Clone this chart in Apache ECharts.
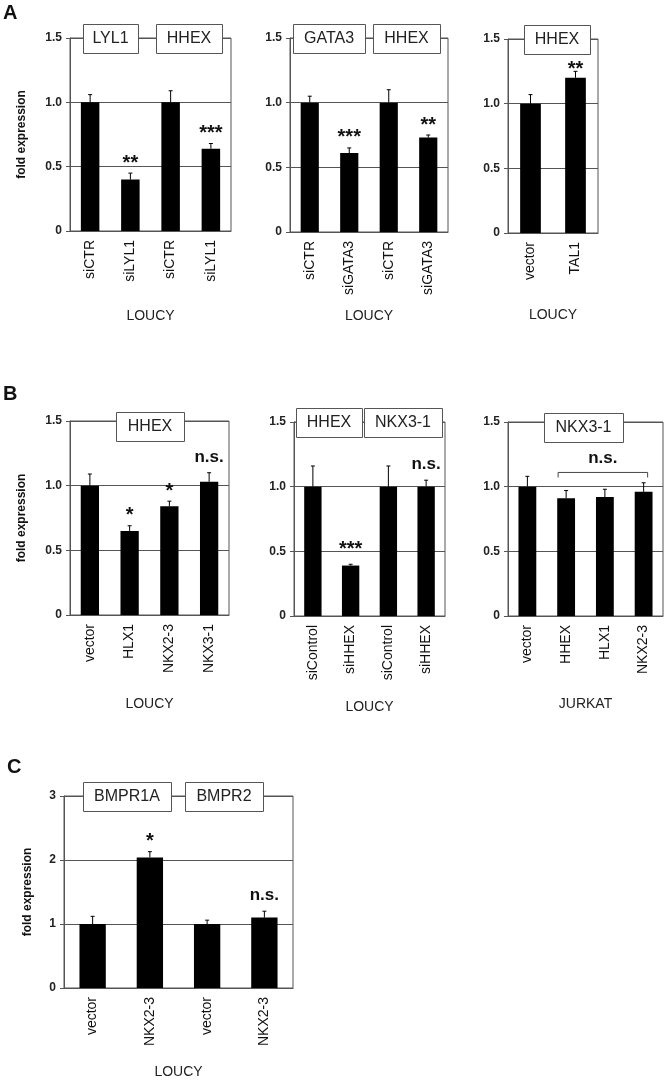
<!DOCTYPE html>
<html>
<head>
<meta charset="utf-8">
<script src="https://cdn.jsdelivr.net/npm/echarts@6/dist/echarts.min.js"></script>
<style>
  html, body { margin: 0; padding: 0; background: #fff; }
  #chart { width: 664px; height: 1080px; }
</style>
</head>
<body>
<div id="chart"></div>
<script>
  // panel A
  const a1Categories = ["siCTR", "siLYL1", "siCTR", "siLYL1"];
  const a1Values = [1.0, 0.40, 1.0, 0.64];
  const a1ErrTop = [1.06, 0.45, 1.09, 0.68];
  const a1Sig = ["", "**", "", "***"];

  const a2Categories = ["siCTR", "siGATA3", "siCTR", "siGATA3"];
  const a2Values = [1.0, 0.61, 1.0, 0.73];
  const a2ErrTop = [1.05, 0.65, 1.10, 0.75];
  const a2Sig = ["", "***", "", "**"];

  const a3Categories = ["vector", "TAL1"];
  const a3Values = [1.0, 1.2];
  const a3ErrTop = [1.07, 1.25];
  const a3Sig = ["", "**"];

  // panel B
  const b1Categories = ["vector", "HLX1", "NKX2-3", "NKX3-1"];
  const b1Values = [1.0, 0.65, 0.84, 1.03];
  const b1ErrTop = [1.09, 0.69, 0.88, 1.10];
  const b1Sig = ["", "*", "*", "n.s."];

  const b2Categories = ["siControl", "siHHEX", "siControl", "siHHEX"];
  const b2Values = [1.0, 0.39, 1.0, 1.0];
  const b2ErrTop = [1.16, 0.40, 1.16, 1.05];
  const b2Sig = ["", "***", "", "n.s."];

  const b3Categories = ["vector", "HHEX", "HLX1", "NKX2-3"];
  const b3Values = [1.0, 0.91, 0.92, 0.96];
  const b3ErrTop = [1.08, 0.97, 0.98, 1.03];
  const b3Sig = ["", "", "", ""];
  const b3Bracket = [1, 3, 1.11]; // from category, to category, height
  const b3BracketLabel = "n.s.";

  // panel C
  const cCategories = ["vector", "NKX2-3", "vector", "NKX2-3"];
  const cValues = [1.0, 2.04, 1.0, 1.10];
  const cErrTop = [1.12, 2.13, 1.06, 1.20];
  const cSig = ["", "*", "", "n.s."];

  const yTicksSmall = [0, 0.5, 1.0, 1.5];
  const yTicksC = [0, 1, 2, 3];

  const FONT = "Liberation Sans, Arial, sans-serif";

  // layout of the seven small plots
  const panels = [
    { cats: a1Categories, vals: a1Values, err: a1ErrTop, sig: a1Sig, ticks: yTicksSmall,
      grid: { left: 70, top: 38, width: 161, height: 193 }, yName: true, cell: "LOUCY", nameGap: 78, sigDrop: 0,
      boxes: [{ text: "LYL1", x: 83, w: 55 }, { text: "HHEX", x: 156, w: 66 }], boxY: 24 },
    { cats: a2Categories, vals: a2Values, err: a2ErrTop, sig: a2Sig, ticks: yTicksSmall,
      grid: { left: 290, top: 38, width: 158, height: 194 }, yName: false, cell: "LOUCY", nameGap: 77, sigDrop: 0,
      boxes: [{ text: "GATA3", x: 293, w: 72 }, { text: "HHEX", x: 373, w: 67 }], boxY: 24 },
    { cats: a3Categories, vals: a3Values, err: a3ErrTop, sig: a3Sig, ticks: yTicksSmall,
      grid: { left: 508, top: 39, width: 90, height: 194 }, yName: false, cell: "LOUCY", nameGap: 75, sigDrop: 8,
      boxes: [{ text: "HHEX", x: 524, w: 66 }], boxY: 25 },
    { cats: b1Categories, vals: b1Values, err: b1ErrTop, sig: b1Sig, ticks: yTicksSmall,
      grid: { left: 70, top: 421, width: 159, height: 194 }, yName: true, cell: "LOUCY", nameGap: 82, sigDrop: 0,
      boxes: [{ text: "HHEX", x: 116, w: 68 }], boxY: 412 },
    { cats: b2Categories, vals: b2Values, err: b2ErrTop, sig: b2Sig, ticks: yTicksSmall,
      grid: { left: 294, top: 422, width: 151, height: 194 }, yName: false, cell: "LOUCY", nameGap: 84, sigDrop: -5,
      boxes: [{ text: "HHEX", x: 296, w: 66 }, { text: "NKX3-1", x: 364, w: 78 }], boxY: 408 },
    { cats: b3Categories, vals: b3Values, err: b3ErrTop, sig: b3Sig, ticks: yTicksSmall,
      grid: { left: 508, top: 422, width: 155, height: 194 }, yName: false, cell: "JURKAT", nameGap: 81, sigDrop: 0,
      boxes: [{ text: "NKX3-1", x: 544, w: 79 }], boxY: 413 },
    { cats: cCategories, vals: cValues, err: cErrTop, sig: cSig, ticks: yTicksC,
      grid: { left: 64, top: 796, width: 229, height: 193 }, yName: true, cell: "LOUCY", nameGap: 77, sigDrop: 0,
      boxes: [{ text: "BMPR1A", x: 83, w: 88 }, { text: "BMPR2", x: 185, w: 78 }], boxY: 782 },
  ];

  const chart = echarts.init(document.getElementById("chart"), null, { renderer: "canvas" });

  const grids = [], xAxes = [], yAxes = [], series = [], graphics = [];

  panels.forEach((p, i) => {
    const tickStep = p.ticks[1] - p.ticks[0];
    grids.push(Object.assign({ show: true, borderColor: "#555", borderWidth: 1 }, p.grid));
    xAxes.push({
      type: "category",
      gridIndex: i,
      data: p.cats,
      axisLine: { lineStyle: { color: "#555", width: 1 } },
      axisTick: { show: false },
      axisLabel: { rotate: 90, fontSize: 14, color: "#111", margin: 9, fontFamily: FONT },
      name: p.cell,
      nameLocation: "middle",
      nameGap: p.nameGap,
      nameTextStyle: { fontSize: 14, color: "#222", fontFamily: FONT },
    });
    yAxes.push({
      type: "value",
      gridIndex: i,
      min: p.ticks[0],
      max: p.ticks[p.ticks.length - 1],
      interval: tickStep,
      axisLine: { show: true, lineStyle: { color: "#555", width: 1 } },
      axisTick: { show: true, length: 4, lineStyle: { color: "#555" } },
      axisLabel: {
        fontSize: 12, fontWeight: "bold", color: "#222", margin: 8, fontFamily: FONT,
        formatter: (v) => (v === 0 ? "0" : tickStep < 1 ? v.toFixed(1) : String(v)),
      },
      splitLine: { show: true, lineStyle: { color: "#555", width: 1 } },
      name: p.yName ? "fold expression" : "",
      nameLocation: "middle",
      nameRotate: 90,
      nameGap: p.grid.left === 64 ? 30 : 42,
      nameTextStyle: { fontSize: 12, fontWeight: "bold", color: "#111", fontFamily: FONT },
    });
    series.push({
      type: "bar",
      xAxisIndex: i,
      yAxisIndex: i,
      data: p.vals,
      barWidth: "46%",
      itemStyle: { color: "#000" },
      silent: true,
    });
    series.push({
      type: "custom",
      xAxisIndex: i,
      yAxisIndex: i,
      silent: true,
      z: 5,
      data: p.cats.map((c, k) => [k, p.vals[k], p.err[k]]),
      renderItem: (params, api) => {
        const base = api.coord([api.value(0), api.value(1)]);
        const top = api.coord([api.value(0), api.value(2)]);
        const children = [
          { type: "line", shape: { x1: base[0], y1: base[1], x2: top[0], y2: top[1] },
            style: { stroke: "#000", lineWidth: 1 } },
          { type: "line", shape: { x1: top[0] - 2, y1: top[1], x2: top[0] + 2, y2: top[1] },
            style: { stroke: "#000", lineWidth: 1 } },
        ];
        const s = p.sig[params.dataIndex];
        if (s) {
          const ns = s === "n.s.";
          children.push({
            type: "text",
            z2: 200,
            style: {
              text: s, x: top[0], y: top[1] - (ns ? 7 : 0) + (ns ? 0 : p.sigDrop),
              align: "center", verticalAlign: "bottom",
              fontSize: ns ? 17 : 20, fontWeight: "bold", fontFamily: FONT, fill: "#111",
            },
          });
        }
        return { type: "group", children };
      },
    });

    p.boxes.forEach((b) => {
      graphics.push({
        type: "rect", z: 100,
        shape: { x: b.x + 0.5, y: p.boxY + 0.5, width: b.w, height: 29 },
        style: { fill: "#fff", stroke: "#555", lineWidth: 1 },
      });
      graphics.push({
        type: "text", z: 101,
        style: { text: b.text, x: b.x + b.w / 2, y: p.boxY + 15, align: "center", verticalAlign: "middle",
                 fontSize: 16, fontFamily: FONT, fill: "#222" },
      });
    });
  });

  // bracket over HHEX..NKX2-3 in the JURKAT plot
  series.push({
    type: "custom",
    xAxisIndex: 5,
    yAxisIndex: 5,
    silent: true,
    data: [b3Bracket],
    renderItem: (params, api) => {
      const l = api.coord([api.value(0), api.value(2)]);
      const r = api.coord([api.value(1), api.value(2)]);
      const x1 = l[0] - 8, x2 = r[0] + 4, y = l[1];
      return {
        type: "group",
        children: [
          { type: "polyline", shape: { points: [[x1, y + 5], [x1, y], [x2, y], [x2, y + 5]] },
            style: { stroke: "#444", lineWidth: 1, fill: null } },
          { type: "text", style: { text: b3BracketLabel, x: (x1 + x2) / 2, y: y - 6, align: "center",
            verticalAlign: "bottom", fontSize: 17, fontWeight: "bold", fontFamily: FONT, fill: "#111" } },
        ],
      };
    },
  });

  // panel letters
  [["A", 3, 3], ["B", 3, 384], ["C", 7, 757]].forEach(([t, x, y]) => {
    graphics.push({ type: "text", style: { text: t, x, y, fontSize: 20, fontWeight: "bold", fontFamily: FONT, fill: "#111" } });
  });

  chart.setOption({
    animation: false,
    backgroundColor: "#fff",
    grid: grids,
    xAxis: xAxes,
    yAxis: yAxes,
    series,
    graphic: graphics,
  });
</script>
</body>
</html>
